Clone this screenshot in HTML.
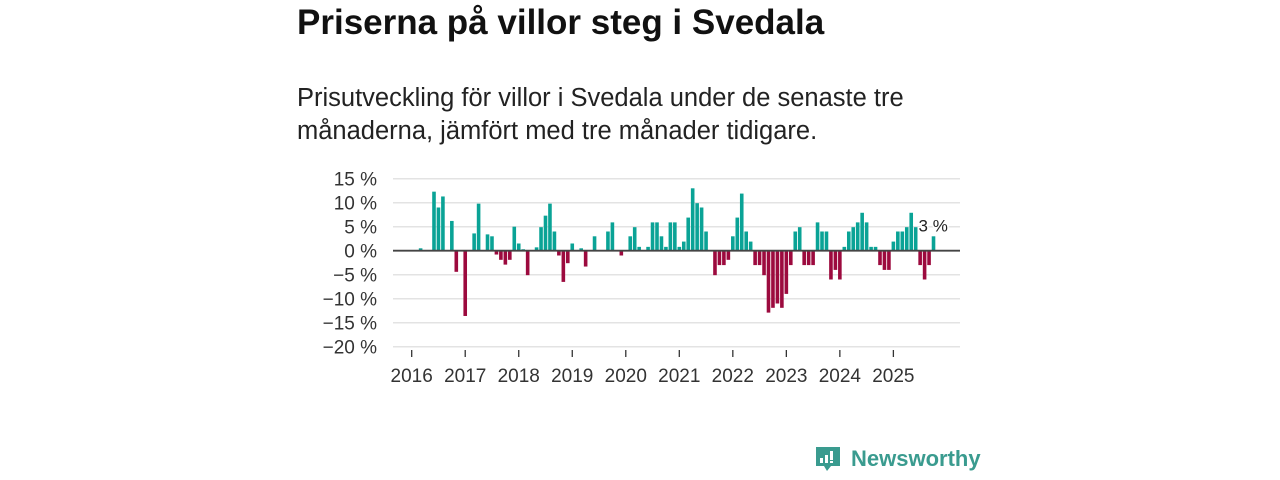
<!DOCTYPE html>
<html><head><meta charset="utf-8">
<style>
body{margin:0;width:1280px;height:480px;background:#fff;font-family:"Liberation Sans","DejaVu Sans",sans-serif;overflow:hidden;position:relative}
#title{position:absolute;left:297px;top:3px;font-size:35px;font-weight:bold;color:#111;margin:0}
#sub{position:absolute;left:297px;top:82px;font-size:25.5px;line-height:33px;color:#222;width:645px}
#logo{position:absolute;left:815px;top:446px;display:flex;align-items:center}
#logo span{font-size:22px;font-weight:bold;color:#3a9b8f;margin-left:10px}
</style></head><body>
<h1 id="title">Priserna på villor steg i Svedala</h1>
<div id="sub">Prisutveckling för villor i Svedala under de senaste tre månaderna, jämfört med tre månader tidigare.</div>
<svg id="chart" width="1280" height="480" style="position:absolute;left:0;top:0"></svg>
<div id="logo">
<svg width="26" height="26" viewBox="0 0 26 26"><path d="M1 1h24v19H16l-4 5-3-5H1z" fill="#3a9b8f"/><rect x="5" y="12" width="3" height="5" fill="#fff"/><rect x="10" y="9" width="3" height="8" fill="#fff"/><rect x="15" y="5" width="3" height="9" fill="#fff"/><rect x="15" y="15" width="3" height="2" fill="#fff"/></svg>
<span>Newsworthy</span></div>
<script>
const yTicks=[15,10,5,0,-5,-10,-15,-20];
const yearLabels=["2016","2017","2018","2019","2020","2021","2022","2023","2024","2025"];
const values=[0,0,0.5,0,0,12.3,9.0,11.3,0,6.2,-4.4,0,
-13.6,0,3.6,9.8,0,3.4,3.0,-0.8,-1.9,-2.9,-1.9,5.0,
1.5,0.3,-5.1,0,0.7,4.9,7.3,9.8,4.0,-1.0,-6.5,-2.6,
1.5,0,0.5,-3.3,0,3.0,0,0,4.0,5.9,0,-1.0,
0,3.0,4.9,0.8,0,0.8,5.9,5.9,3.0,0.8,5.9,5.9,
0.8,1.9,6.9,13.0,9.9,9.0,4.0,0,-5.1,-3.0,-3.0,-1.9,
3.0,6.9,11.9,4.0,1.9,-3.0,-3.0,-5.1,-12.9,-11.9,-11.0,-11.9,
-9.0,-3.0,4.0,4.9,-3.0,-3.0,-3.0,5.9,4.0,4.0,-6.0,-4.0,
-6.0,0.8,4.0,4.9,5.9,7.9,5.9,0.8,0.8,-3.0,-4.0,-4.0,
1.9,4.0,4.0,4.9,7.9,4.9,-3.0,-6.0,-3.0,3.0];
const lastLabel="3 %";
const NS="http://www.w3.org/2000/svg";
const svg=document.getElementById('chart');
const y=v=>250.7-v*4.8;
const x=i=>411.7+i*4.46;
function mk(t,a){const e=document.createElementNS(NS,t);for(const k in a)e.setAttribute(k,a[k]);svg.appendChild(e);return e;}
yTicks.forEach(t=>{
 const g=mk('line',{x1:393,x2:960,y1:y(t),y2:y(t),stroke:'#e3e3e3','stroke-width':1.5});
 
 
 const l=mk('text',{x:377,y:y(t)+7,'text-anchor':'end','font-size':19,fill:'#333','font-family':'Liberation Sans, sans-serif'});
 l.textContent=(t<0?'\u2212'+(-t):t)+' %';
 
 
});
yearLabels.forEach((yr,k)=>{
 const tx=x(k*12);
 const t=mk('line',{x1:tx,x2:tx,y1:350,y2:357,stroke:'#333','stroke-width':1.3});
 
 
 const l=mk('text',{x:tx,y:382,'text-anchor':'middle','font-size':19,fill:'#333','font-family':'Liberation Sans, sans-serif'});
 l.textContent=yr;
 
 
});
values.forEach((v,i)=>{
 if(v===0)return;
 const b=mk('rect',{x:x(i)-1.8,width:3.6,y:Math.min(y(v),y(0)),height:Math.abs(y(v)-y(0)),fill:v>0?'#0aa396':'#9c0a3e'});
 
 
});
const z=mk('line',{x1:393,x2:960,y1:y(0),y2:y(0),stroke:'#444','stroke-width':1.8});


const li=values.length-1;
const lab=mk('text',{x:x(li)-15,y:y(values[li])-5,'font-size':17,fill:'#222',stroke:'#fff','stroke-width':3,'paint-order':'stroke','font-family':'Liberation Sans, sans-serif'});
lab.textContent=lastLabel;


</script>
</body></html>
